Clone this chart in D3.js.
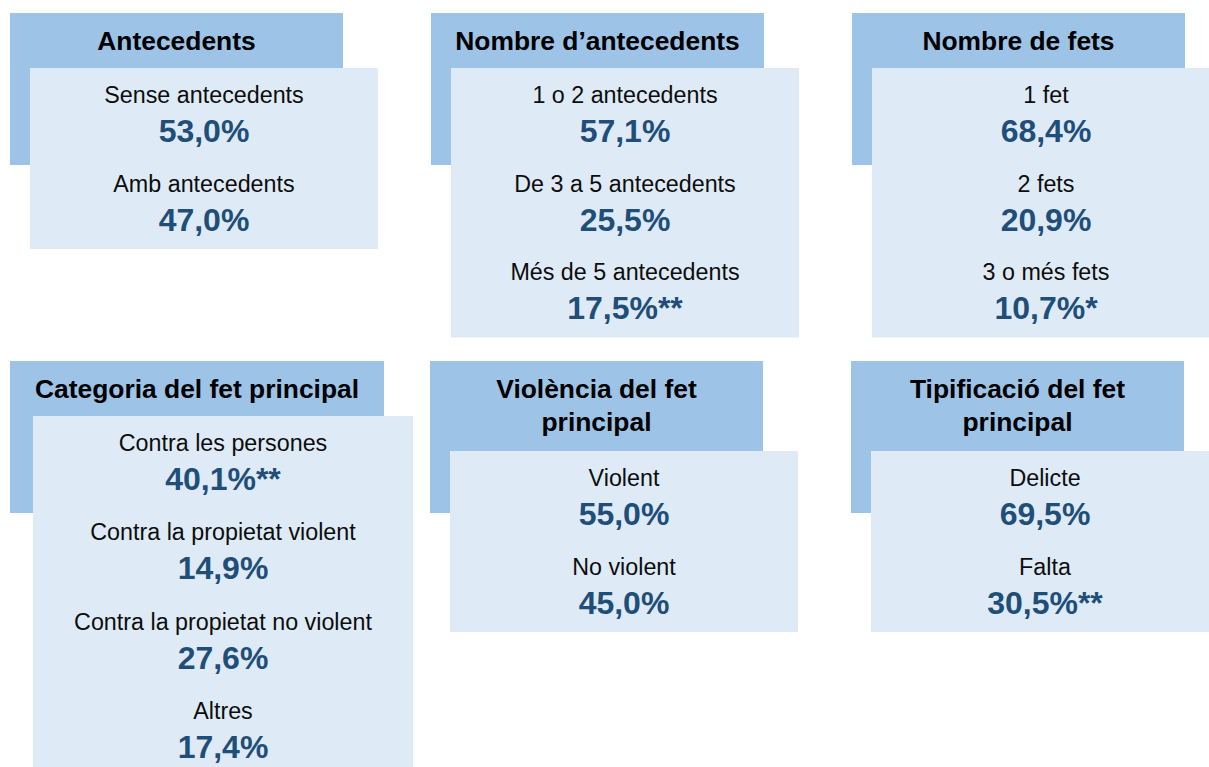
<!DOCTYPE html>
<html>
<head>
<meta charset="utf-8">
<script src="https://cdn.jsdelivr.net/npm/d3@7"></script>
<style>
  html, body { margin: 0; padding: 0; background: #ffffff; overflow: hidden; }
  svg { display: block; }
  text { font-family: "Liberation Sans", Arial, Helvetica, sans-serif; }
</style>
</head>
<body>
<svg id="chart" width="1209" height="767"></svg>
<script>
// ---- Data ----
const panelTitles = [
  ["Antecedents"],
  ["Nombre d\u2019antecedents"],
  ["Nombre de fets"],
  ["Categoria del fet principal"],
  ["Violència del fet", "principal"],
  ["Tipificació del fet", "principal"]
];
const panelCategories = [
  ["Sense antecedents", "Amb antecedents"],
  ["1 o 2 antecedents", "De 3 a 5 antecedents", "Més de 5 antecedents"],
  ["1 fet", "2 fets", "3 o més fets"],
  ["Contra les persones", "Contra la propietat violent", "Contra la propietat no violent", "Altres"],
  ["Violent", "No violent"],
  ["Delicte", "Falta"]
];
const panelValues = [
  [53.0, 47.0],
  [57.1, 25.5, 17.5],
  [68.4, 20.9, 10.7],
  [40.1, 14.9, 27.6, 17.4],
  [55.0, 45.0],
  [69.5, 30.5]
];
const panelSignificance = [
  ["", ""],
  ["", "", "**"],
  ["", "", "*"],
  ["**", "", "", ""],
  ["", ""],
  ["", "**"]
];

// ---- Layout ----
const W = 1209, H = 767;
const svg = d3.select("#chart");
const colX = d3.scaleOrdinal().domain([0, 1, 2]).range([10, 431, 852]);
const rowY = d3.scaleOrdinal().domain([0, 1]).range([13, 361]);
const headerFill = "#9DC3E6";
const innerFill = "#DEEBF7";
const valueColor = "#1F4E79";

const locale = d3.formatLocale({decimal: ",", thousands: ".", grouping: [3], currency: ["", "€"]});
const fmt = locale.format(".1f");

panelTitles.forEach((title, p) => {
  const col = p % 3, row = Math.floor(p / 3);
  const wide = (p === 3);
  const hx = colX(col) - (row === 1 && col > 0 ? 1 : 0);
  const hy = rowY(row);
  const hw = wide ? 374 : 333;
  const hh = 152;
  const ix = hx + (wide ? 23 : 20);
  const iw = wide ? 380 : 348;
  const iy = hy + (title.length > 1 ? 90 : 55);
  const n = panelValues[p].length;
  const step = wide ? 89.3 : 88.5;
  const ih = 4 + step * n;

  const g = svg.append("g");
  g.append("rect").attr("x", hx).attr("y", hy).attr("width", hw).attr("height", hh)
    .attr("fill", headerFill);
  g.append("rect").attr("x", ix).attr("y", iy).attr("width", iw).attr("height", ih)
    .attr("fill", innerFill);

  const tt = g.append("text")
    .attr("x", hx + hw / 2).attr("y", hy + 37)
    .attr("text-anchor", "middle")
    .attr("font-size", 26.4).attr("font-weight", "bold").attr("fill", "#000");
  title.forEach((line, li) => {
    tt.append("tspan").attr("x", hx + hw / 2).attr("y", hy + 37 + li * 33).text(line);
  });

  const items = d3.range(n);
  const y = d3.scaleBand().domain(items)
    .range([iy + 35, iy + 35 + n * step]).paddingInner(0).paddingOuter(0);
  const cx = ix + iw / 2;

  g.selectAll("text.lab").data(items).join("text")
    .attr("class", "lab")
    .attr("x", cx).attr("y", i => y(i))
    .attr("text-anchor", "middle")
    .attr("font-size", 23.3).attr("fill", "#0d0d0d")
    .text(i => panelCategories[p][i]);

  g.selectAll("text.val").data(items).join("text")
    .attr("class", "val")
    .attr("x", cx).attr("y", i => y(i) + 39)
    .attr("text-anchor", "middle")
    .attr("font-size", 32).attr("font-weight", "bold").attr("fill", valueColor)
    .text(i => fmt(panelValues[p][i]) + "%" + panelSignificance[p][i]);
});
</script>
</body>
</html>
